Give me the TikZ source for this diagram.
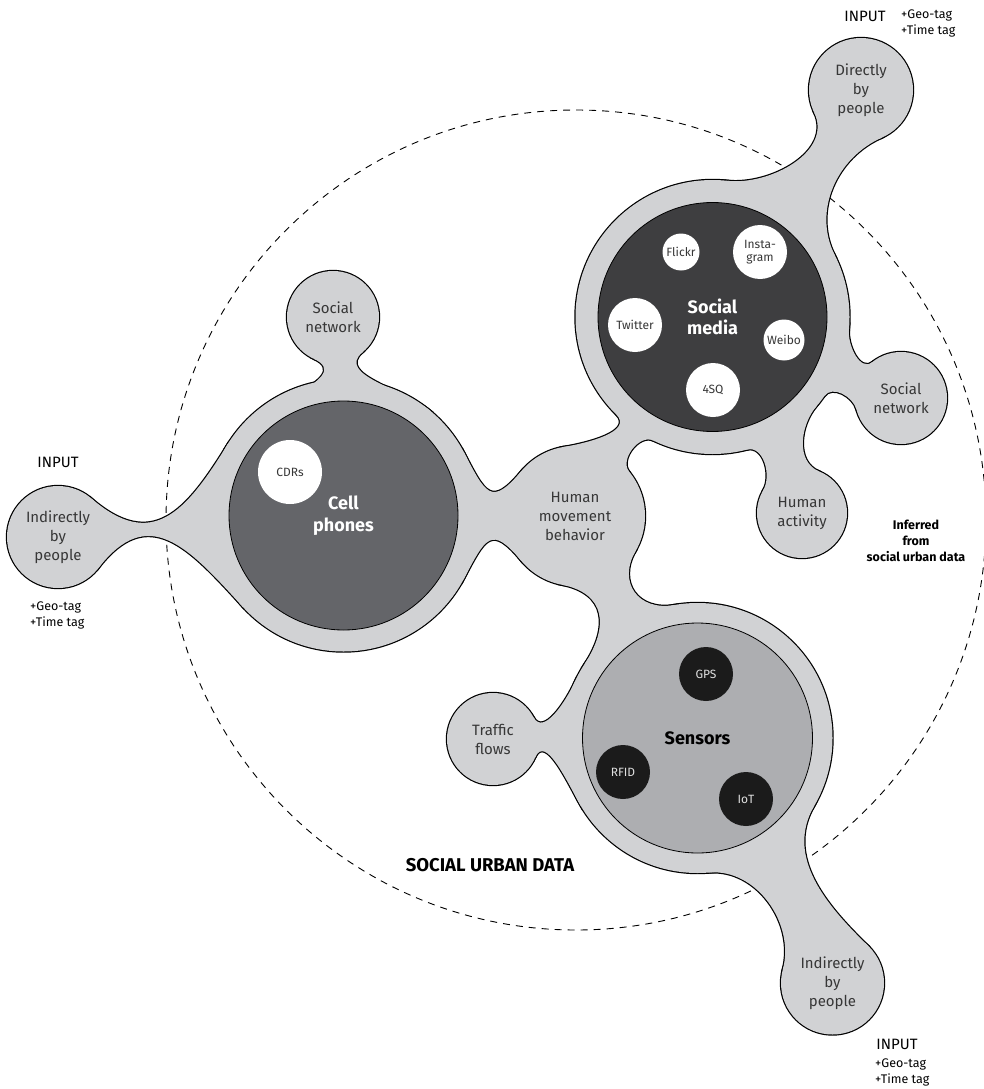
\documentclass[tikz,border=0pt]{standalone}
\usepackage{fontspec}
\setmainfont{Fira Sans}
\usetikzlibrary{calc}
\pgfdeclarelayer{bg}
\pgfsetlayers{bg,main}
\definecolor{blob}{RGB}{209,210,212}
\definecolor{cellgray}{RGB}{100,101,105}
\definecolor{mediagray}{RGB}{62,62,64}
\definecolor{sensorgray}{RGB}{173,174,177}
\definecolor{dotblack}{RGB}{27,27,27}
\definecolor{inkgray}{RGB}{55,55,55}
\tikzset{
  sat/.style={align=center,text=inkgray,font=\fontsize{15}{19}\selectfont},
  hub/.style={circle,draw=black,line width=0.8pt,inner sep=0pt,align=center,font=\fontsize{18}{21.5}\selectfont\bfseries},
  dot/.style={circle,inner sep=0pt,align=center,font=\fontsize{12}{13}\selectfont},
  wdot/.style={dot,fill=white,text=inkgray},
  bdot/.style={dot,fill=dotblack,text=white!88!black},
  tag/.style={align=left,inner sep=0pt,anchor=west,font=\fontsize{12.5}{16}\selectfont},
  inp/.style={font=\fontsize{15}{18}\selectfont}
}
\newdimen\nkax \newdimen\nkay \newdimen\nkbx \newdimen\nkby
% neck between two round blobs: A, rA, B, rB, angles on side 1, angles on side 2, looseness
\newcommand\neck[9]{%
  \pgfextractx{\nkax}{\pgfpointanchor{#1}{center}}%
  \pgfextracty{\nkay}{\pgfpointanchor{#1}{center}}%
  \pgfextractx{\nkbx}{\pgfpointanchor{#3}{center}}%
  \pgfextracty{\nkby}{\pgfpointanchor{#3}{center}}%
  \pgfmathsetmacro\nkn{atan2(\nkby-\nkay,\nkbx-\nkax)}%
  \pgfmathsetmacro\nkaa{\nkn+#5}\pgfmathsetmacro\nkba{\nkn+180-#6}%
  \pgfmathsetmacro\nkbb{\nkn+180+#8}\pgfmathsetmacro\nkab{\nkn-#7}%
  \pgfmathsetmacro\nkoa{\nkaa-90}\pgfmathsetmacro\nkia{\nkba+90}%
  \pgfmathsetmacro\nkob{\nkbb-90}\pgfmathsetmacro\nkib{\nkab+90}%
  \path[nk] ($(#1.center)+(\nkaa:#2)$) to[out=\nkoa,in=\nkia,looseness=#9] ($(#3.center)+(\nkba:#4)$)
    -- ($(#3.center)+(\nkbb:#4)$) to[out=\nkob,in=\nkib,looseness=#9] ($(#1.center)+(\nkab:#2)$) -- cycle;}
\newcommand\blobshape{%
  \foreach \nd/\r in {cp/136,sm/137,se/135,ibl/51,snl/46,hm/70,dbp/52,snr/46,ha/45,tf/46,ibr/51.5}
    \path[nk] (\nd.center) circle (\r);
  \neck{ibl}{51}{cp}{136}{45}{36}{42}{38}{1.4}
  \neck{snl}{46}{cp}{136}{37}{43}{28}{57}{1}
  \neck{cp}{136}{hm}{70}{28}{40}{28}{40}{2}
  \neck{hm}{70}{sm}{137}{44}{10}{16}{9}{1}
  \neck{sm}{137}{dbp}{52}{27}{31}{30}{57}{1}
  \neck{sm}{137}{snr}{46}{18}{28}{12}{38}{1}
  \neck{sm}{137}{ha}{45}{25}{47}{10}{35}{1}
  \neck{hm}{70}{se}{135}{31}{19}{40}{28}{1.4}
  \neck{se}{135}{tf}{46}{30}{24}{25}{28}{1}
  \neck{se}{135}{ibr}{51.5}{31}{73}{24}{46}{1}
}
\begin{document}
\begin{tikzpicture}[x=1pt,y=1pt]
\useasboundingbox (0,0) rectangle (983,-1089);
% hubs
\node[hub,fill=cellgray,text=white,minimum size=229] (cp) at (343.5,-515.5) {Cell\\phones};
\node[hub,fill=mediagray,text=white,minimum size=229] (sm) at (712.5,-317) {Social\\media};
\node[hub,fill=sensorgray,text=black,minimum size=230] (se) at (697.5,-738) {Sensors};
\node[wdot,minimum size=64] (cdr) at (290,-472) {CDRs};
\node[wdot,minimum size=37] (flickr) at (681,-252) {Flickr};
\node[wdot,minimum size=54] (insta) at (760,-252) {Insta-\\gram};
\node[wdot,minimum size=54] (twitter) at (635,-325) {Twitter};
\node[wdot,minimum size=41] (weibo) at (784,-340) {Weibo};
\node[wdot,minimum size=54] (foursq) at (713,-390) {4SQ};
\node[bdot,minimum size=54] (gps) at (706,-674) {GPS};
\node[bdot,minimum size=54] (rfid) at (623,-772) {RFID};
\node[bdot,minimum size=54] (iot) at (746,-799) {IoT};
% satellites
\node[sat] (ibl) at (58,-537) {Indirectly\\by\\people};
\node[sat] (snl) at (333,-317) {Social\\network};
\node[sat] (hm) at (575,-516) {Human\\movement\\behavior};
\node[sat] (dbp) at (861,-90) {Directly\\by\\people};
\node[sat] (snr) at (901,-398) {Social\\network};
\node[sat] (ha) at (802,-513) {Human\\activity};
\node[sat] (tf) at (493,-739) {Traffic\\flows};
\node[sat] (ibr) at (832.5,-983) {Indirectly\\by\\people};
% inputs
\node[inp] (inl) at (58,-462) {INPUT};
\node[tag] (tagl) at (30,-615) {+Geo-tag\\+Time tag};
\node[inp] (intop) at (865,-16) {INPUT};
\node[tag] (tagt) at (901,-23.5) {+Geo-tag\\+Time tag};
\node[inp] (inb) at (897,-1044) {INPUT};
\node[tag] (tagb) at (875,-1072.5) {+Geo-tag\\+Time tag};
\node[align=center,font=\fontsize{12.5}{16}\selectfont\bfseries] (infer) at (916,-541) {Inferred\\from\\social urban data};
\node[font=\fontsize{18.5}{21}\selectfont\bfseries] (sud) at (490,-865) {SOCIAL URBAN DATA};
\begin{pgfonlayer}{bg}
\fill[white] (0,0) rectangle (983,-1089);
\draw[dash pattern=on 7pt off 6pt,line width=0.9pt] (576,-520) circle (410);
\begin{scope}[nk/.style={fill=black,draw=black,line width=2.4pt}]
\blobshape
\end{scope}
\begin{scope}[nk/.style={fill=blob}]
\blobshape
\end{scope}
\end{pgfonlayer}
\end{tikzpicture}
\end{document}
